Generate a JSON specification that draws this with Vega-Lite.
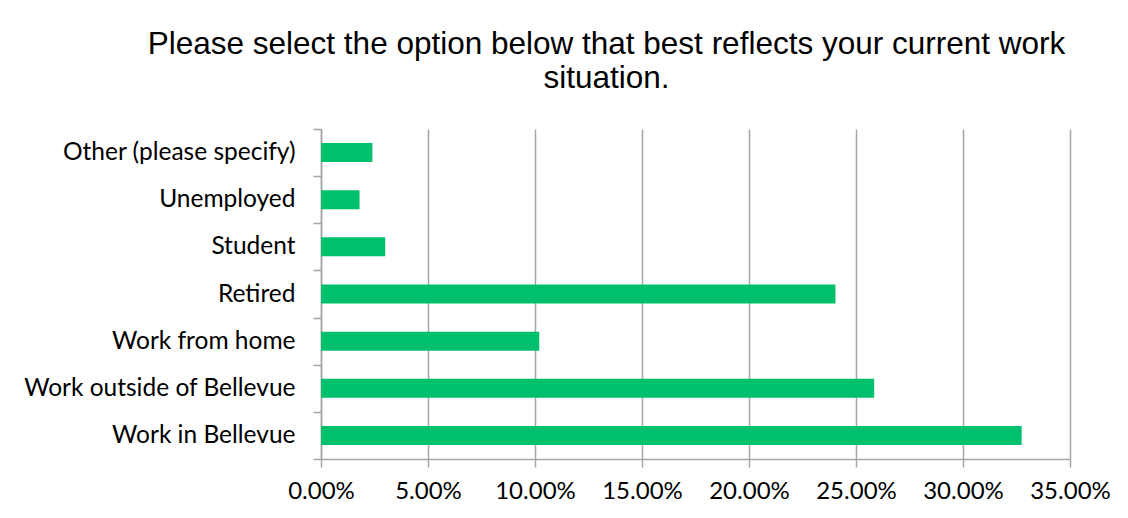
{
  "$schema": "https://vega.github.io/schema/vega-lite/v6.json",
  "width": 749,
  "height": 330,
  "autosize": {"type": "none"},
  "padding": {"left": 321, "top": 129, "right": 58, "bottom": 59},
  "background": "white",
  "config": {"view": {"stroke": null}},
  "title": {
    "text": ["Please select the option below that best reflects your current work", "situation."],
    "font": "Liberation Sans",
    "fontSize": 31.5,
    "fontWeight": "normal",
    "color": "#000000",
    "anchor": "middle",
    "frame": "group",
    "dx": -89,
    "offset": 22,
    "lineHeight": 34
  },
  "data": {
    "values": [
      {"option": "Other (please specify)", "pct": 0.024},
      {"option": "Unemployed", "pct": 0.018},
      {"option": "Student", "pct": 0.030},
      {"option": "Retired", "pct": 0.2404},
      {"option": "Work from home", "pct": 0.102},
      {"option": "Work outside of Bellevue", "pct": 0.2585},
      {"option": "Work in Bellevue", "pct": 0.3274}
    ]
  },
  "mark": {"type": "bar", "color": "#00BF6D", "height": {"band": 0.403}},
  "encoding": {
    "y": {
      "field": "option",
      "type": "nominal",
      "sort": null,
      "scale": {"paddingInner": 0, "paddingOuter": 0},
      "axis": {
        "title": null,
        "tickBand": "extent",
        "labelFont": "Lato",
        "labelFontSize": 24.5,
        "labelColor": "#000000",
        "labelPadding": 18,
        "labelLimit": 0,
        "domainColor": "#a6a6a6",
        "domainWidth": 1.5,
        "tickColor": "#a6a6a6",
        "tickWidth": 1.5,
        "tickSize": 8,
        "grid": false
      }
    },
    "x": {
      "field": "pct",
      "type": "quantitative",
      "scale": {"domain": [0, 0.35], "nice": false},
      "axis": {
        "title": null,
        "format": ".2%",
        "values": [0, 0.05, 0.1, 0.15, 0.2, 0.25, 0.3, 0.35],
        "grid": true,
        "gridColor": "#a6a6a6",
        "gridWidth": 1.5,
        "domainColor": "#a6a6a6",
        "domainWidth": 1.5,
        "tickColor": "#a6a6a6",
        "tickWidth": 1.5,
        "tickSize": 8,
        "labelFont": "Lato",
        "labelFontSize": 24,
        "labelColor": "#000000",
        "labelPadding": 12,
        "labelFlush": false,
        "labelOverlap": false
      }
    }
  }
}
